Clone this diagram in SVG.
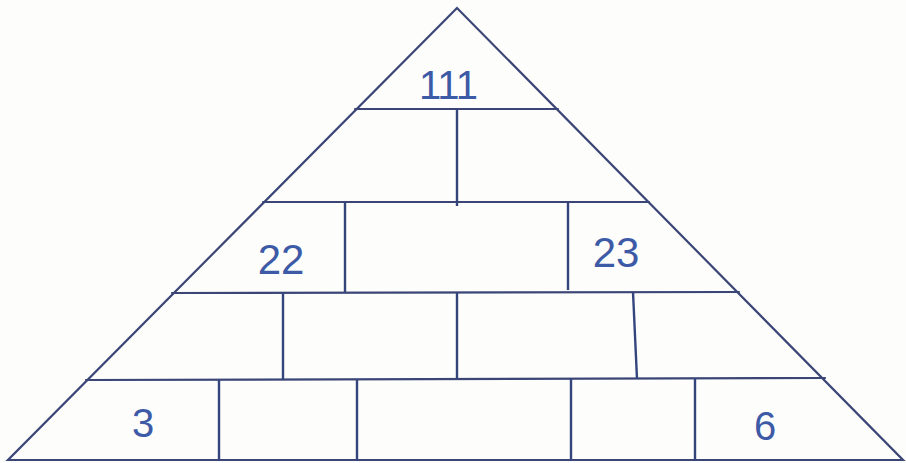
<svg xmlns="http://www.w3.org/2000/svg" width="906" height="463" viewBox="0 0 906 463">
<style>
.ln{stroke:#3b4676;stroke-width:2.2;fill:none;stroke-linecap:round}
.vt{stroke:#34457e;stroke-width:2.4;fill:none}
.t{font-family:"Liberation Sans",Arial,sans-serif;fill:#3d5aa6;text-anchor:middle;font-weight:normal}
</style>
<rect width="906" height="463" fill="#fdfdfb"/>
<g id="pyramid-outline">
<polygon class="ln" points="457,8 8,460 903,460"/>
</g>
<g id="rows">
<line class="ln" x1="355" y1="109" x2="558" y2="109"/>
<line class="ln" x1="263" y1="202" x2="649" y2="202"/>
<line class="ln" x1="172" y1="293" x2="739" y2="292"/>
<line class="ln" x1="86" y1="380" x2="825" y2="378"/>
</g>
<g id="joints">
<line class="vt" x1="457" y1="109" x2="457" y2="206"/>
<line class="vt" x1="345" y1="202" x2="345" y2="292"/>
<line class="vt" x1="568" y1="202" x2="568" y2="290"/>
<line class="vt" x1="283" y1="293" x2="283" y2="380"/>
<line class="vt" x1="457" y1="293" x2="457" y2="379"/>
<line class="vt" x1="633" y1="292" x2="637" y2="379"/>
<line class="vt" x1="219" y1="380" x2="219" y2="460"/>
<line class="vt" x1="357" y1="380" x2="357" y2="460"/>
<line class="vt" x1="571" y1="379" x2="571" y2="460"/>
<line class="vt" x1="695" y1="378" x2="695" y2="460"/>
</g>
<g id="brick-top"><text class="t" x="448" y="99" font-size="40" letter-spacing="-1">111</text></g>
<g id="brick-22"><text class="t" x="281" y="274" font-size="42">22</text></g>
<g id="brick-23"><text class="t" x="616" y="267" font-size="42">23</text></g>
<g id="brick-3"><text class="t" x="143" y="437" font-size="40">3</text></g>
<g id="brick-6"><text class="t" x="765" y="440" font-size="40">6</text></g>
</svg>
